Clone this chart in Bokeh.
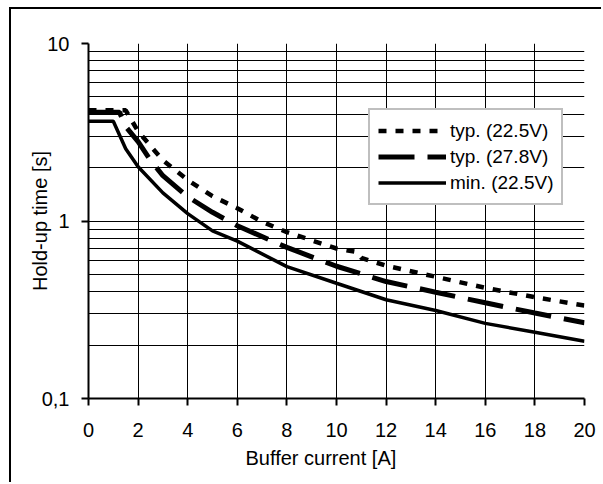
from bokeh.plotting import figure
from bokeh.models import Range1d, FixedTicker, Title, Legend, LegendItem
from bokeh.embed import file_html
from bokeh.resources import INLINE

# ---- data ----
x_typ225 = [0, 1.5, 2, 2.5, 3, 4, 5, 6, 7, 8, 10, 10.8, 11, 12, 14, 16, 18, 20]
y_typ225 = [4.2, 4.2, 3.2, 2.65, 2.2, 1.7, 1.38, 1.18, 0.99, 0.865, 0.70, 0.67, 0.62, 0.56, 0.485, 0.42, 0.372, 0.334]

x_typ278 = [0, 1.25, 1.5, 2, 2.5, 3, 4, 5, 6, 8, 10, 12, 14, 16, 18, 20]
y_typ278 = [4.1, 4.1, 3.4, 2.8, 2.2, 1.8, 1.37, 1.12, 0.94, 0.71, 0.556, 0.456, 0.397, 0.346, 0.303, 0.267]

x_min225 = [0, 1.0, 1.5, 2, 3, 4, 5, 6, 8, 10, 12, 14, 16, 18, 20]
y_min225 = [3.65, 3.65, 2.55, 2.02, 1.44, 1.10, 0.88, 0.77, 0.553, 0.446, 0.36, 0.313, 0.265, 0.236, 0.21]

series_labels = ["typ. (22.5V)", "typ. (27.8V)", "min. (22.5V)"]
x_ticks = list(range(0, 21, 2))
y_ticks = [0.1, 1, 10]
y_tick_labels = {0.1: "0,1", 1: "1", 10: "10"}
y_minor = [m * 10.0 ** e for e in (-1, 0) for m in range(2, 10)]

FONT = "Liberation Sans"

p = figure(width=592, height=475,
           x_range=Range1d(0, 20), y_range=Range1d(0.1, 10),
           y_axis_type="log", output_backend="svg", toolbar_location=None,
           min_border_left=77, min_border_right=19,
           min_border_top=34, min_border_bottom=86)
p.styles = {"margin-left": "9px", "margin-top": "7px",
            "border-left": "2px solid black", "border-top": "2px solid black"}
p.outline_line_color = None
p.background_fill_color = "white"
p.border_fill_color = "white"

xt = FixedTicker(ticks=x_ticks)
yt = FixedTicker(ticks=y_ticks, minor_ticks=y_minor)
p.xaxis.ticker = xt
p.yaxis.ticker = yt
p.xgrid.ticker = xt
p.ygrid.ticker = yt

p.xgrid.grid_line_color = "black"
p.xgrid.grid_line_width = 1
p.ygrid.grid_line_color = "black"
p.ygrid.grid_line_width = 1
p.ygrid.minor_grid_line_color = "black"
p.ygrid.minor_grid_line_width = 1

for ax in (p.xaxis[0], p.yaxis[0]):
    ax.axis_line_color = "black"
    ax.axis_line_width = 2
    ax.major_tick_out = 7
    ax.major_tick_in = 0
    ax.major_tick_line_width = 2
    ax.major_tick_line_color = "black"
    ax.minor_tick_out = 0
    ax.minor_tick_in = 0
    ax.major_label_text_font = FONT
    ax.major_label_text_font_size = "20px"
    ax.major_label_text_color = "black"
    ax.major_label_standoff = 12

p.xaxis.major_label_standoff = 17
p.yaxis.major_label_overrides = y_tick_labels
p.yaxis.axis_label = "Hold-up time [s]"
p.yaxis.axis_label_text_font = FONT
p.yaxis.axis_label_text_font_size = "20px"
p.yaxis.axis_label_text_font_style = "normal"
p.yaxis.axis_label_text_color = "black"
p.yaxis.axis_label_standoff = -12

xt_title = Title(text="Buffer current [A]", align="left", offset=157,
                 text_font=FONT, text_font_size="20px", text_font_style="normal",
                 text_color="black")
p.add_layout(xt_title, "below")

r1 = p.line(x_typ225, y_typ225, line_color="black", line_width=4.5,
            line_dash="8 9", line_cap="butt")
r2 = p.line(x_typ278, y_typ278, line_color="black", line_width=5,
            line_dash="36 13", line_cap="butt")
r3 = p.line(x_min225, y_min225, line_color="black", line_width=3.5)

legend = Legend(items=[LegendItem(label=series_labels[0], renderers=[r1]),
                       LegendItem(label=series_labels[1], renderers=[r2]),
                       LegendItem(label=series_labels[2], renderers=[r3])],
                location=(280, 193), margin=0, padding=8, spacing=1,
                glyph_width=68, glyph_height=25, label_height=25, label_standoff=4,
                label_text_font=FONT, label_text_font_size="19px", label_text_color="black",
                border_line_color="#808080", border_line_width=2,
                background_fill_color="white", background_fill_alpha=1.0)
p.add_layout(legend)

open("out.html", "w").write(file_html(p, INLINE))
